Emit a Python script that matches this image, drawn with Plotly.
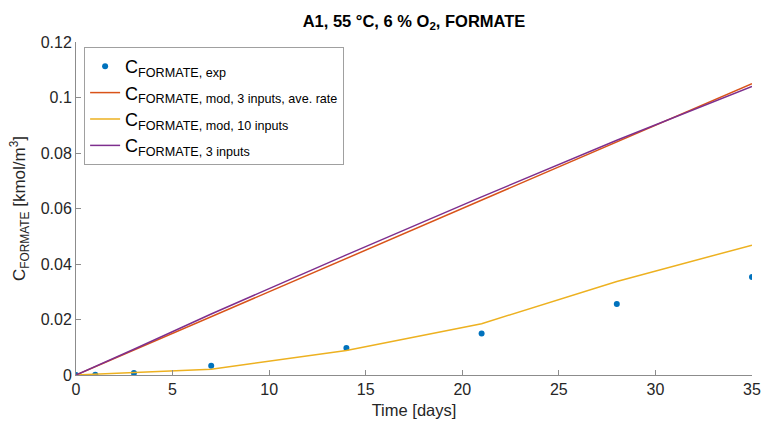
import plotly.graph_objects as go

# Sampling times [days]
t_days = [0, 1, 3, 7, 14, 21, 28, 35]

# Measured formate concentration [kmol/m3]
c_exp = [0.0, 0.0001, 0.0007, 0.0033, 0.0097, 0.0150, 0.0256, 0.0353]

# Model, 3 inputs, average rate
c_mod3_ave = [0.0, 0.0030, 0.0090, 0.0210, 0.0420, 0.0630, 0.0840, 0.1050]

# Model, 10 inputs
c_mod10 = [0.0, 0.0003, 0.0008, 0.0021, 0.0088, 0.0185, 0.0337, 0.0468]

# 3 inputs
c_3in = [0.0, 0.0031, 0.0093, 0.0220, 0.0433, 0.0642, 0.0846, 0.1040]

BLUE, RED, YELLOW, PURPLE = "#0072BD", "#D95319", "#EDB120", "#7E2F8E"
FONT = "Liberation Sans, Arial, sans-serif"

fig = go.Figure()
fig.add_trace(go.Scatter(x=t_days, y=c_exp, mode="markers",
                         marker=dict(color=BLUE, size=6),
                         name="C<sub>FORMATE, exp</sub>"))
fig.add_trace(go.Scatter(x=t_days, y=c_mod3_ave, mode="lines",
                         line=dict(color=RED, width=1.5),
                         name="C<sub>FORMATE, mod, 3 inputs, ave. rate</sub>"))
fig.add_trace(go.Scatter(x=t_days, y=c_mod10, mode="lines",
                         line=dict(color=YELLOW, width=1.5),
                         name="C<sub>FORMATE, mod, 10 inputs</sub>"))
fig.add_trace(go.Scatter(x=t_days, y=c_3in, mode="lines",
                         line=dict(color=PURPLE, width=1.5),
                         name="C<sub>FORMATE, 3 inputs</sub>"))

axis_common = dict(showgrid=False, zeroline=False, showline=True,
                   linecolor="#8c8c8c", linewidth=1, ticks="inside",
                   ticklen=5, tickcolor="#8c8c8c",
                   tickfont=dict(family=FONT, size=16, color="#262626"),
                   mirror=False, automargin=False)

fig.update_layout(
    width=763, height=421,
    margin=dict(l=76, r=11, t=42, b=46),
    paper_bgcolor="white", plot_bgcolor="white",
    font=dict(family=FONT, color="#262626"),
    title=dict(text="<b>A1, 55 °C, 6 % O<sub>2</sub>, FORMATE</b>",
               x=0.5, xanchor="center", xref="paper", y=0.95, yanchor="middle",
               font=dict(family=FONT, size=16.5, color="#000000")),
    xaxis=dict(range=[0, 35], tickvals=[0, 5, 10, 15, 20, 25, 30, 35],
               title=dict(text="Time [days]", standoff=7,
                          font=dict(family=FONT, size=16.5, color="#262626")),
               **axis_common),
    yaxis=dict(range=[0, 0.12], tickvals=[0, 0.02, 0.04, 0.06, 0.08, 0.1, 0.12],
               ticktext=["0", "0.02", "0.04", "0.06", "0.08", "0.1", "0.12"],
               title=dict(text="C<sub>FORMATE</sub> [kmol/m<sup>3</sup>]", standoff=10,
                          font=dict(family=FONT, size=17, color="#262626")),
               **axis_common),
    legend=dict(x=0.012, y=0.985, xanchor="left", yanchor="top",
                bgcolor="white", bordercolor="#a0a0a0", borderwidth=1,
                font=dict(family=FONT, size=18, color="#000000"),
                itemwidth=30, tracegroupgap=0),
    showlegend=True,
)

fig.write_html("out.html")
